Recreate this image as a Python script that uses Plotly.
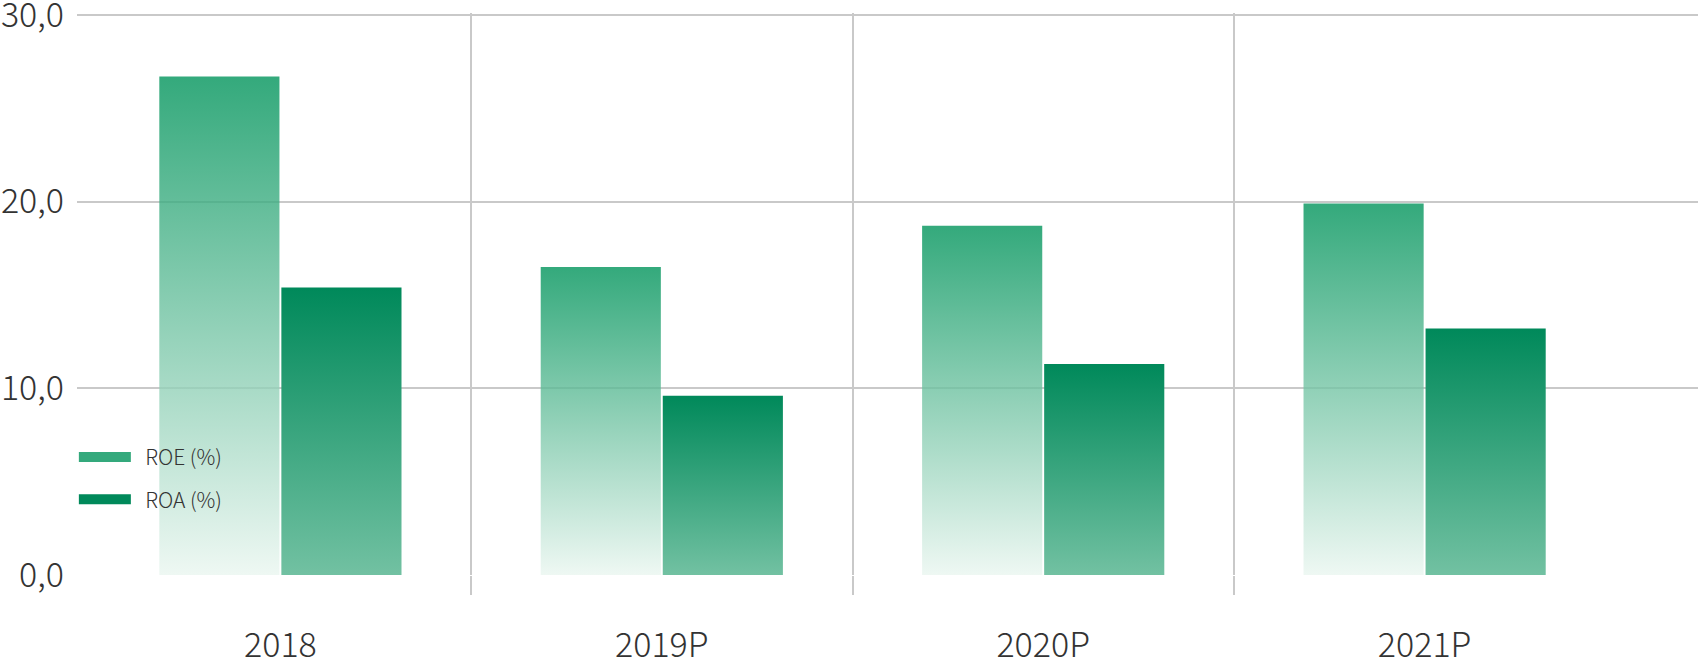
import plotly.graph_objects as go

categories = ["2018", "2019P", "2020P", "2021P"]
roe_values = [26.7, 16.5, 18.7, 19.9]
roa_values = [15.4, 9.6, 11.3, 13.2]
series_names = ["ROE (%)", "ROA (%)"]
y_ticks = [0, 10, 20, 30]

# ROE fill is slightly translucent so gridlines show through (as in the reference);
# colours are pre-compensated so that over white they look like #34a97c -> #eef8f3
ROE_TOP, ROE_BOTTOM = "rgba(1,148,91,0.8)", "rgba(234,246,240,0.8)"
ROE_LEGEND = "#34a97c"
ROA_TOP, ROA_BOTTOM = "#00895a", "#72c1a2"
GRID = "#c9c9c9"
TEXT = "#333333"
FONT = "Noto Sans CJK SC"

BAR_W = 0.315
GAP = 0.005

fig = go.Figure()

def add_bars(values, side, top, bottom, name):
    for i, v in enumerate(values):
        if side < 0:
            x0, x1 = i - GAP / 2 - BAR_W, i - GAP / 2
        else:
            x0, x1 = i + GAP / 2, i + GAP / 2 + BAR_W
        fig.add_trace(go.Scatter(
            x=[x0, x1, x1, x0, x0], y=[0, 0, v, v, 0],
            mode="lines", fill="toself", line=dict(width=0, color="rgba(0,0,0,0)"),
            fillgradient=dict(type="vertical", colorscale=[[0, bottom], [1, top]],
                              start=0, stop=v),
            showlegend=False, hoverinfo="skip", xaxis="x", yaxis="y",
            name=name,
        ))

add_bars(roe_values, -1, ROE_TOP, ROE_BOTTOM, series_names[0])
add_bars(roa_values, 1, ROA_TOP, ROA_BOTTOM, series_names[1])

# legend entries
for nm, col in zip(series_names, [ROE_LEGEND, ROA_TOP]):
    fig.add_trace(go.Scatter(
        x=[None], y=[None], mode="lines", line=dict(color=col, width=11),
        name="\u00a0\u00a0" + nm, legendgroup=nm, showlegend=True,
    ))

# dummy trace to activate xaxis2
fig.add_trace(go.Scatter(x=[None], y=[None], xaxis="x2", yaxis="y",
                         showlegend=False, hoverinfo="skip"))

x_lo, x_hi = -0.5333, 3.7168
y_hi = 30.1

fig.update_layout(
    width=1698, height=657,
    margin=dict(l=77, r=0, t=13, b=82, autoexpand=False),
    paper_bgcolor="white", plot_bgcolor="white",
    separators=", ",
    font=dict(family=FONT, color=TEXT, weight=300),
    showlegend=True,
    legend=dict(
        xref="container", yref="container",
        x=0.0435, y=0.335, xanchor="left", yanchor="top",
        font=dict(size=21, family=FONT, color=TEXT, weight=300),
        itemwidth=52, tracegroupgap=12, bgcolor="rgba(0,0,0,0)",
    ),
    xaxis=dict(
        range=[x_lo, x_hi], tickvals=list(range(len(categories))),
        ticktext=categories, showgrid=False, zeroline=False, showline=False,
        ticks="", ticklabelstandoff=47, automargin=False,
        ticklabeloverflow="allow",
        tickfont=dict(size=34, family=FONT, color=TEXT, weight=300),
    ),
    xaxis2=dict(
        range=[x_lo, x_hi], overlaying="x", side="bottom",
        tickvals=[i + 0.5 for i in range(len(categories) - 1)],
        showticklabels=False, showgrid=True, gridcolor=GRID, gridwidth=2,
        ticks="outside", ticklen=19, tickwidth=2, tickcolor=GRID,
        zeroline=False, showline=False, automargin=False,
    ),
    yaxis=dict(
        range=[0, y_hi], tickvals=y_ticks, tickformat=".1f",
        showgrid=True, gridcolor=GRID, gridwidth=2, zeroline=False,
        showline=False, ticks="", ticklabelstandoff=12, automargin=False,
        ticklabeloverflow="allow",
        tickfont=dict(size=34, family=FONT, color=TEXT, weight=300),
    ),
)

fig.write_html("out.html", config={"displayModeBar": False},
               post_script="document.body.style.margin='0px';")
